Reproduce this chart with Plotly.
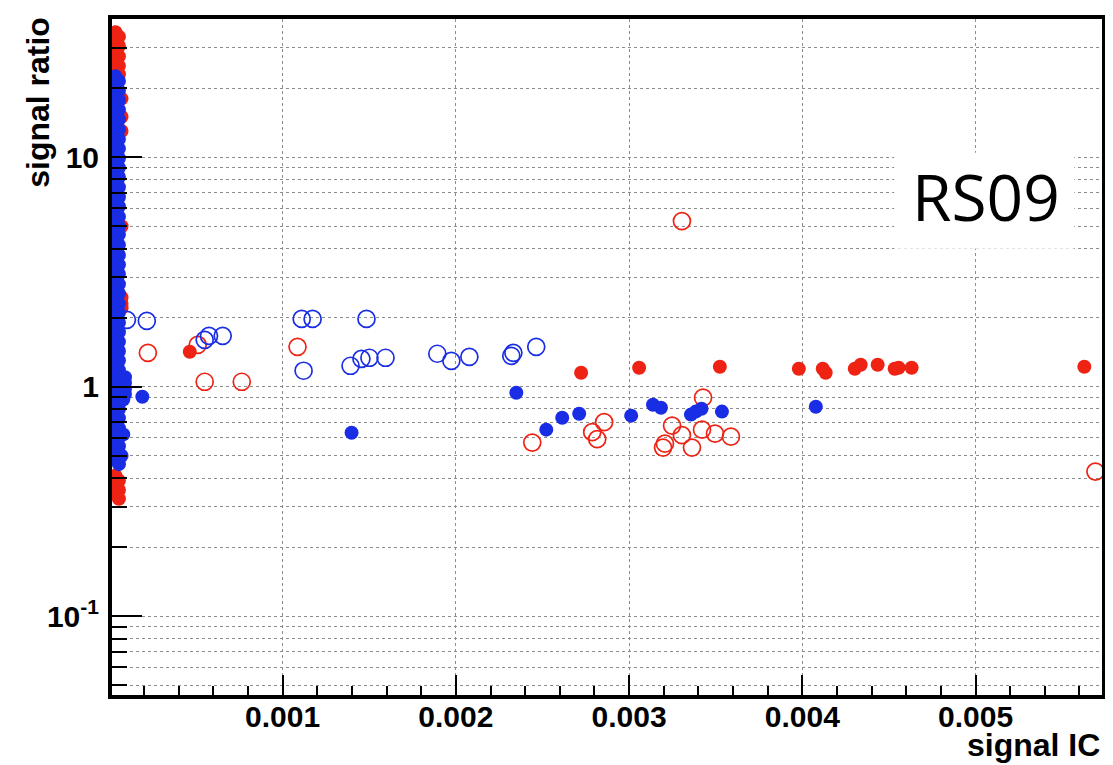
import plotly.graph_objects as go

# ---------------- data ----------------
# dense column of points at very small signal IC
col_red_x = [0.000035, 0.000055, 0.000035, 0.000055, 0.000035, 0.000055, 0.000035, 0.000055,
             0.000035, 0.000055,
             0.00007, 0.00007, 0.00007, 0.00007, 0.00007, 0.00007, 0.00007,
             0.000035, 0.000055, 0.000035, 0.000055, 0.000035, 0.000055]
col_red_y = [35.0, 33.5, 32.0, 30.5, 29.0, 27.5, 26.0, 25.0, 24.0, 23.0,
             18.0, 15.0, 13.0, 5.0, 2.45, 2.3, 2.2,
             0.41, 0.39, 0.37, 0.355, 0.34, 0.325]

col_blue_x = [0.000035, 0.000055, 0.000035, 0.000055, 0.000035, 0.000055, 0.000035, 0.000055,
              0.000035, 0.000055, 0.000035, 0.000055, 0.000035, 0.000055, 0.000035, 0.000055,
              0.000035, 0.000055, 0.000035, 0.000055, 0.000035, 0.000055, 0.000035, 0.000055,
              0.000035, 0.000055, 0.000035, 0.000055, 0.000035, 0.000055, 0.000035, 0.000055,
              0.000035, 0.000055, 0.000035, 0.000055, 0.000035, 0.000055, 0.000035, 0.000055,
              0.000035, 0.000055, 0.000035, 0.000055, 0.000035, 0.000055, 0.000035, 0.000055,
              0.000035, 0.000055, 0.000035, 0.000055, 0.000035, 0.000055, 0.000035, 0.000055,
              0.000035, 0.000055, 0.000035, 0.000055, 0.000035, 0.000055, 0.000035, 0.000055,
              0.000035, 0.000055, 0.000035, 0.000055, 0.000035, 0.000055, 0.000035, 0.000055,
              0.000035, 0.000055, 0.000035, 0.000055, 0.000035, 0.000055, 0.000035, 0.000055,
              0.000035, 0.000055,
              0.00009, 0.00009, 0.00009, 0.00009, 0.00008, 0.00008, 0.00007]
col_blue_y = [22.5, 21.5, 20.5, 19.5, 18.6, 17.7, 16.9, 16.1, 15.3, 14.6,
              13.9, 13.2, 12.6, 12.0, 11.4, 10.9, 10.4, 9.9, 9.4, 9.0,
              8.6, 8.2, 7.8, 7.4, 7.1, 6.7, 6.4, 6.1, 5.8, 5.5,
              5.3, 5.0, 4.8, 4.6, 4.35, 4.15, 3.95, 3.75, 3.6, 3.4,
              3.25, 3.1, 2.95, 2.8, 2.7, 2.55, 2.45, 2.3, 2.2, 2.1,
              2.0, 1.9, 1.82, 1.73, 1.65, 1.57, 1.5, 1.43, 1.36, 1.3,
              1.24, 1.18, 1.12, 1.07, 1.02, 0.97, 0.93, 0.88, 0.84, 0.8,
              0.76, 0.73, 0.7, 0.66, 0.63, 0.6, 0.58, 0.55, 0.52, 0.5,
              0.48, 0.46,
              1.1, 1.04, 0.98, 0.93, 0.88, 0.62, 0.5]

blue_fill_x = [0.00019, 0.001398, 0.002349, 0.002522, 0.002614, 0.002712, 0.003012, 0.003138,
               0.003184, 0.003357, 0.003385, 0.003418, 0.003536, 0.004078]
blue_fill_y = [0.905, 0.63, 0.942, 0.65, 0.733, 0.763, 0.748, 0.835,
               0.81, 0.756, 0.779, 0.802, 0.779, 0.818]

red_fill_x = [0.000464, 0.002723, 0.003058, 0.003524, 0.003980, 0.004118, 0.004135, 0.004303,
              0.004337, 0.004435, 0.004533, 0.004556, 0.004631, 0.005628]
red_fill_y = [1.42, 1.15, 1.209, 1.222, 1.197, 1.197, 1.15, 1.197,
              1.246, 1.246, 1.197, 1.209, 1.209, 1.222]

red_open_x = [0.000222, 0.00051, 0.00055, 0.000764, 0.001086, 0.002441, 0.002787, 0.002816,
              0.002856, 0.003196, 0.003207, 0.003248, 0.003305, 0.003305, 0.003363, 0.003427,
              0.003421, 0.003496, 0.003588, 0.005692]
red_open_y = [1.405, 1.523, 1.051, 1.051, 1.492, 0.571, 0.634, 0.591,
              0.701, 0.543, 0.565, 0.677, 5.27, 0.615, 0.543, 0.896,
              0.650, 0.625, 0.606, 0.427]

blue_open_x = [0.000101, 0.000216, 0.00055, 0.000575, 0.000654, 0.00111, 0.001173, 0.001121,
               0.001392, 0.001455, 0.001501, 0.001484, 0.001594, 0.001893, 0.001974, 0.002078,
               0.00232, 0.002332, 0.002464]
blue_open_y = [1.956, 1.936, 1.60, 1.665, 1.666, 1.975, 1.975, 1.174,
               1.234, 1.323, 1.337, 1.975, 1.337, 1.392, 1.297, 1.350,
               1.364, 1.405, 1.492]

x_tick_vals = [0.001, 0.002, 0.003, 0.004, 0.005]
x_tick_text = ["0.001", "0.002", "0.003", "0.004", "0.005"]
y_tick_vals = [0.1, 1, 10]
y_tick_text = ["10<sup>-1</sup>", "1", "10"]
y_minor_vals = [0.05, 0.06, 0.07, 0.08, 0.09, 0.2, 0.3, 0.4, 0.5, 0.6, 0.7, 0.8, 0.9,
                2, 3, 4, 5, 6, 7, 8, 9, 20, 30]

RED = "rgb(238,35,20)"
BLUE = "rgb(25,45,228)"

fig = go.Figure()
fig.add_trace(go.Scatter(x=col_red_x, y=col_red_y, mode="markers",
                         marker=dict(color=RED, size=14, symbol="circle"), showlegend=False))
fig.add_trace(go.Scatter(x=col_blue_x, y=col_blue_y, mode="markers",
                         marker=dict(color=BLUE, size=14, symbol="circle"), showlegend=False))
fig.add_trace(go.Scatter(x=red_open_x, y=red_open_y, mode="markers",
                         marker=dict(color=RED, size=17, symbol="circle-open",
                                     line=dict(color=RED, width=1.7)), showlegend=False))
fig.add_trace(go.Scatter(x=blue_open_x, y=blue_open_y, mode="markers",
                         marker=dict(color=BLUE, size=17, symbol="circle-open",
                                     line=dict(color=BLUE, width=1.7)), showlegend=False))
fig.add_trace(go.Scatter(x=red_fill_x, y=red_fill_y, mode="markers",
                         marker=dict(color=RED, size=14, symbol="circle"), showlegend=False))
fig.add_trace(go.Scatter(x=blue_fill_x, y=blue_fill_y, mode="markers",
                         marker=dict(color=BLUE, size=14, symbol="circle"), showlegend=False))

tickfont = dict(family="Liberation Sans, Arial, sans-serif", size=30, color="black", weight="bold")
GRID = "#8c8c8c"

fig.update_xaxes(
    range=[0.000015, 0.00573], tickvals=x_tick_vals, ticktext=x_tick_text,
    ticks="inside", ticklen=20, tickwidth=2, tickcolor="black",
    showgrid=True, gridcolor=GRID, gridwidth=1, griddash="dot",
    zeroline=False, showline=True, linewidth=4, linecolor="black", mirror=True,
    tickfont=tickfont, ticklabelstandoff=-8,
    minor=dict(tick0=0, dtick=0.0002, ticks="inside", ticklen=9, tickwidth=2,
               tickcolor="black", showgrid=False),
)
fig.update_yaxes(
    type="log", range=[-1.343, 1.602], tickvals=y_tick_vals, ticktext=y_tick_text,
    ticks="inside", ticklen=30, tickwidth=2, tickcolor="black",
    showgrid=True, gridcolor=GRID, gridwidth=1, griddash="dot",
    zeroline=False, showline=True, linewidth=4, linecolor="black", mirror=True,
    tickfont=tickfont, ticklabelstandoff=3,
    minor=dict(tickvals=y_minor_vals, ticks="inside", ticklen=15, tickwidth=2,
               tickcolor="black", showgrid=True, gridcolor=GRID, gridwidth=1, griddash="dot"),
)

titlefont = dict(family="Liberation Sans, Arial, sans-serif", size=32, color="black", weight="bold")
fig.add_annotation(text="signal ratio", xref="paper", yref="paper", x=-0.0744, y=1.006,
                   xanchor="center", yanchor="top", textangle=-90, showarrow=False, font=titlefont)
fig.add_annotation(text="signal IC", xref="paper", yref="paper", x=1.0, y=-0.074,
                   xanchor="right", yanchor="middle", showarrow=False, font=titlefont)

fig.add_shape(type="rect", xref="paper", yref="paper", x0=0.790, x1=0.972, y0=0.660, y1=0.802,
              fillcolor="white", line=dict(width=0), layer="above")
fig.add_annotation(text="RS09", xref="paper", yref="paper", x=0.883, y=0.738,
                   xanchor="center", yanchor="middle", showarrow=False,
                   font=dict(family="Open Sans, sans-serif", size=64, color="black"))

# page body has an 8px margin, so the figure is shrunk by 8px and margins reduced by 8
fig.update_layout(
    width=1105, height=757,
    margin=dict(l=104, r=7, t=10, b=70),
    paper_bgcolor="white", plot_bgcolor="white",
    showlegend=False,
)

fig.write_html("out.html")
